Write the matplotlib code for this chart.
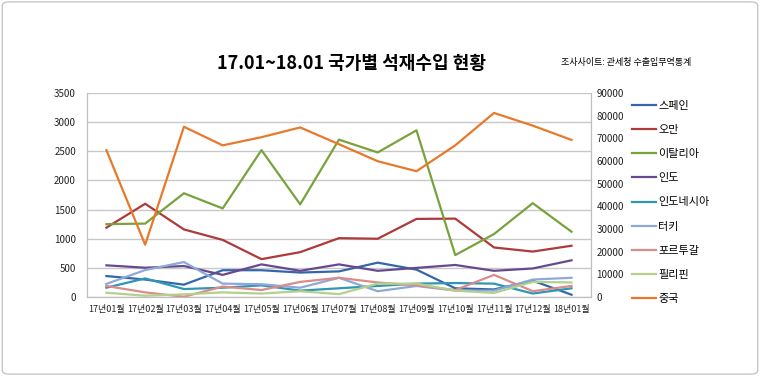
import matplotlib.pyplot as plt
from matplotlib.patches import FancyBboxPatch

plt.rcParams['font.family'] = ['Noto Sans CJK KR', 'DejaVu Sans']

months = ['17년01월', '17년02월', '17년03월', '17년04월', '17년05월', '17년06월', '17년07월',
          '17년08월', '17년09월', '17년10월', '17년11월', '17년12월', '18년01월']

# left axis series
spain = [360, 300, 212, 460, 460, 420, 440, 590, 470, 150, 130, 280, 40]
oman = [1190, 1600, 1160, 980, 650, 770, 1010, 1000, 1340, 1345, 850, 780, 880]
italy = [1250, 1260, 1780, 1520, 2520, 1590, 2700, 2480, 2860, 720, 1080, 1610, 1120]
india = [544, 503, 532, 380, 560, 450, 560, 450, 500, 550, 450, 490, 630]
indonesia = [160, 320, 137, 160, 200, 110, 150, 190, 230, 240, 230, 60, 150]
turkey = [225, 463, 600, 230, 220, 160, 330, 100, 190, 110, 110, 300, 330]
portugal = [190, 80, 5, 180, 120, 260, 330, 250, 200, 120, 380, 100, 190]
philippines = [74, 23, 46, 80, 60, 100, 50, 230, 230, 110, 70, 260, 250]
# right axis series
china = [64800, 23100, 75100, 66900, 70500, 74800, 67400, 59900, 55500, 66900, 81200, 75600, 69300]

left_series = [('스페인', spain, '#3467AA'),
               ('오만', oman, '#AE3A3A'),
               ('이탈리아', italy, '#78A33C'),
               ('인도', india, '#674A8E'),
               ('인도네시아', indonesia, '#2F97B2'),
               ('터키', turkey, '#8DA9D9'),
               ('포르투갈', portugal, '#D98C8A'),
               ('필리핀', philippines, '#B4D08C')]

fig = plt.figure(figsize=(7.6, 3.76), dpi=100)
ax = fig.add_axes([0.1145, 0.21, 0.663, 0.5427])
ax2 = ax.twinx()

x = list(range(len(months)))
handles = []
for name, vals, col in left_series:
    h, = ax.plot(x, vals, color=col, lw=1.6, label=name)
    handles.append(h)
h, = ax2.plot(x, china, color='#E8792A', lw=1.6, label='중국')
handles.append(h)

ax.set_ylim(0, 3500)
ax.set_yticks(range(0, 3501, 500))
ax2.set_ylim(0, 90000)
ax2.set_yticks(range(0, 90001, 10000))
ax.set_xlim(-0.5, len(months) - 0.5)
ax.set_xticks(x)
ax.set_xticklabels(months)

ax.grid(axis='y', color='#C8C8C8', lw=1)
ax.set_axisbelow(True)
for a in (ax, ax2):
    a.spines['top'].set_visible(False)
    for s in ('left', 'right', 'bottom'):
        a.spines[s].set_color('#BEBEBE')
    a.tick_params(length=0, labelsize=7, colors='#222222')
ax.tick_params(axis='x', pad=6, labelsize=6.5)
ax.tick_params(axis='y', pad=8)
ax2.tick_params(axis='y', pad=4)

fig.legend(handles=handles, loc='upper left', bbox_to_anchor=(0.818, 0.758),
           frameon=False, fontsize=8, handlelength=2.2, handletextpad=0.2,
           labelspacing=1.27)

fig.text(0.463, 0.83, '17.01~18.01 국가별 석재수입 현황', ha='center', va='center',
         fontsize=13, fontweight='bold')
fig.text(0.824, 0.835, '조사사이트: 관세청 수출입무역통계', ha='center', va='center',
         fontsize=6.5)

border = FancyBboxPatch((0.003, 0.005), 0.994, 0.99, boxstyle='round,pad=0,rounding_size=0.01',
                        transform=fig.transFigure, fill=False, edgecolor='#C8C8C8', lw=1)
fig.patches.append(border)

fig.savefig('out.png', dpi=100)
